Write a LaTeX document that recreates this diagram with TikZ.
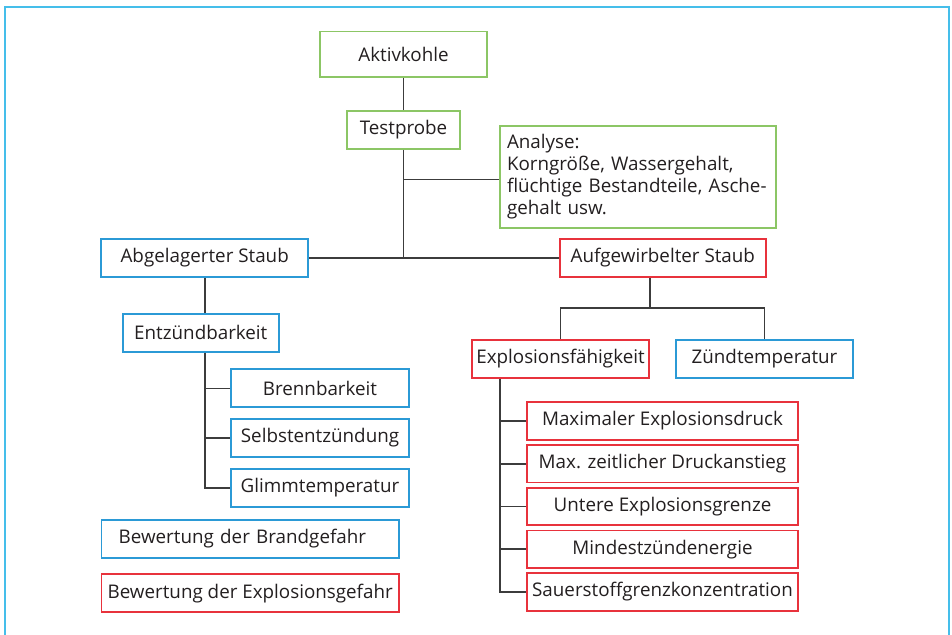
\documentclass[tikz,border=0pt]{standalone}
\usepackage{fontspec}
\setmainfont{Open Sans}
\definecolor{grn}{HTML}{8CC665}
\definecolor{blu}{HTML}{2B9AD6}
\definecolor{rd}{HTML}{E8323C}
\definecolor{framec}{HTML}{45BEEA}
\definecolor{linec}{HTML}{3C3C3C}
\definecolor{textc}{HTML}{231F20}
\begin{document}
\begin{tikzpicture}[x=1pt,y=-1pt,
  font=\fontsize{18.8}{22}\selectfont,
  box/.style={draw, line width=1.7pt, minimum height=38pt, inner sep=0pt, text=textc},
  gbox/.style={box, draw=grn},
  bbox/.style={box, draw=blu},
  rbox/.style={box, draw=rd},
  conn/.style={draw=linec, line width=1.6pt}]
\useasboundingbox (0,0) rectangle (952,634);
\fill[white] (0,0) rectangle (952,634);
\draw[framec, line width=2pt] (5,7) rectangle (949,660);

\node[gbox, minimum width=167pt, minimum height=45.5pt] (akt) at (403.5,54.3) {Aktivkohle};
\node[gbox, minimum width=113pt] (test) at (403.5,130) {Testprobe};
\node[gbox, minimum width=276pt, minimum height=102.3pt, text width=262pt, inner xsep=7pt, align=left] (ana) at (638,176.8)
  {Analyse:\\Korngröße, Wassergehalt,\\flüchtige Bestandteile, Asche-\\gehalt usw.};
\node[bbox, minimum width=207pt] (abg) at (204.7,258) {Abgelagerter Staub};
\node[rbox, minimum width=206.3pt] (auf) at (662.8,258) {Aufgewirbelter Staub};
\node[bbox, minimum width=155.7pt] (ent) at (200.8,332.7) {Entzündbarkeit};
\node[bbox, minimum width=177.7pt] (brenn) at (320,388.3) {Brennbarkeit};
\node[bbox, minimum width=177.7pt] (selbst) at (320,437.7) {Selbstentzündung};
\node[bbox, minimum width=177.7pt] (glimm) at (320,487.7) {Glimmtemperatur};
\node[bbox, minimum width=297.7pt, text width=263pt, inner xsep=17pt, align=left] (bbrand) at (250.2,538.7) {Bewertung der Brandgefahr};
\node[rbox, minimum width=297.7pt] (bexpl) at (250.2,593.3) {Bewertung der Explosionsgefahr};
\node[rbox, minimum width=177.6pt] (expl) at (560.5,358.8) {Explosionsfähigkeit};
\node[bbox, minimum width=177.6pt] (zuend) at (764.5,358.8) {Zündtemperatur};
\node[rbox, minimum width=271.6pt, minimum height=37.4pt] (maxd) at (662.5,421) {Maximaler Explosionsdruck};
\node[rbox, minimum width=271.6pt, minimum height=37.4pt] (maxz) at (662.5,463.7) {Max. zeitlicher Druckanstieg};
\node[rbox, minimum width=271.6pt, minimum height=37.4pt] (unt) at (662.5,506.5) {Untere Explosionsgrenze};
\node[rbox, minimum width=271.6pt, minimum height=37.4pt] (mind) at (662.5,549.2) {Mindestzündenergie};
\node[rbox, minimum width=271.6pt, minimum height=37.4pt] (sauer) at (662.5,592) {Sauerstoffgrenzkonzentration};

\coordinate (j1) at (403.5,258);
\coordinate (jana) at (403.5,179.3);
\coordinate (a1) at (650,308);
\coordinate (e0) at (500,0);

\draw[conn] (akt) -- (test);
\draw[conn] (test.south) -- (j1);
\draw[conn] (jana) -- (jana -| ana.west);
\draw[conn] (abg.east) -- (auf.west);
\draw[conn] (abg.south) -- (abg.south |- ent.north);
\draw[conn] (abg.south |- ent.south) |- (glimm.west);
\draw[conn] (abg.south |- brenn.west) -- (brenn.west);
\draw[conn] (abg.south |- selbst.west) -- (selbst.west);
\draw[conn] (auf.south -| a1) -- (a1);
\draw[conn] (expl.north) |- (a1) -| (zuend.north);
\draw[conn] (expl.south -| e0) |- (sauer.west);
\draw[conn] (e0 |- maxd.west) -- (maxd.west);
\draw[conn] (e0 |- maxz.west) -- (maxz.west);
\draw[conn] (e0 |- unt.west) -- (unt.west);
\draw[conn] (e0 |- mind.west) -- (mind.west);
\end{tikzpicture}
\end{document}
